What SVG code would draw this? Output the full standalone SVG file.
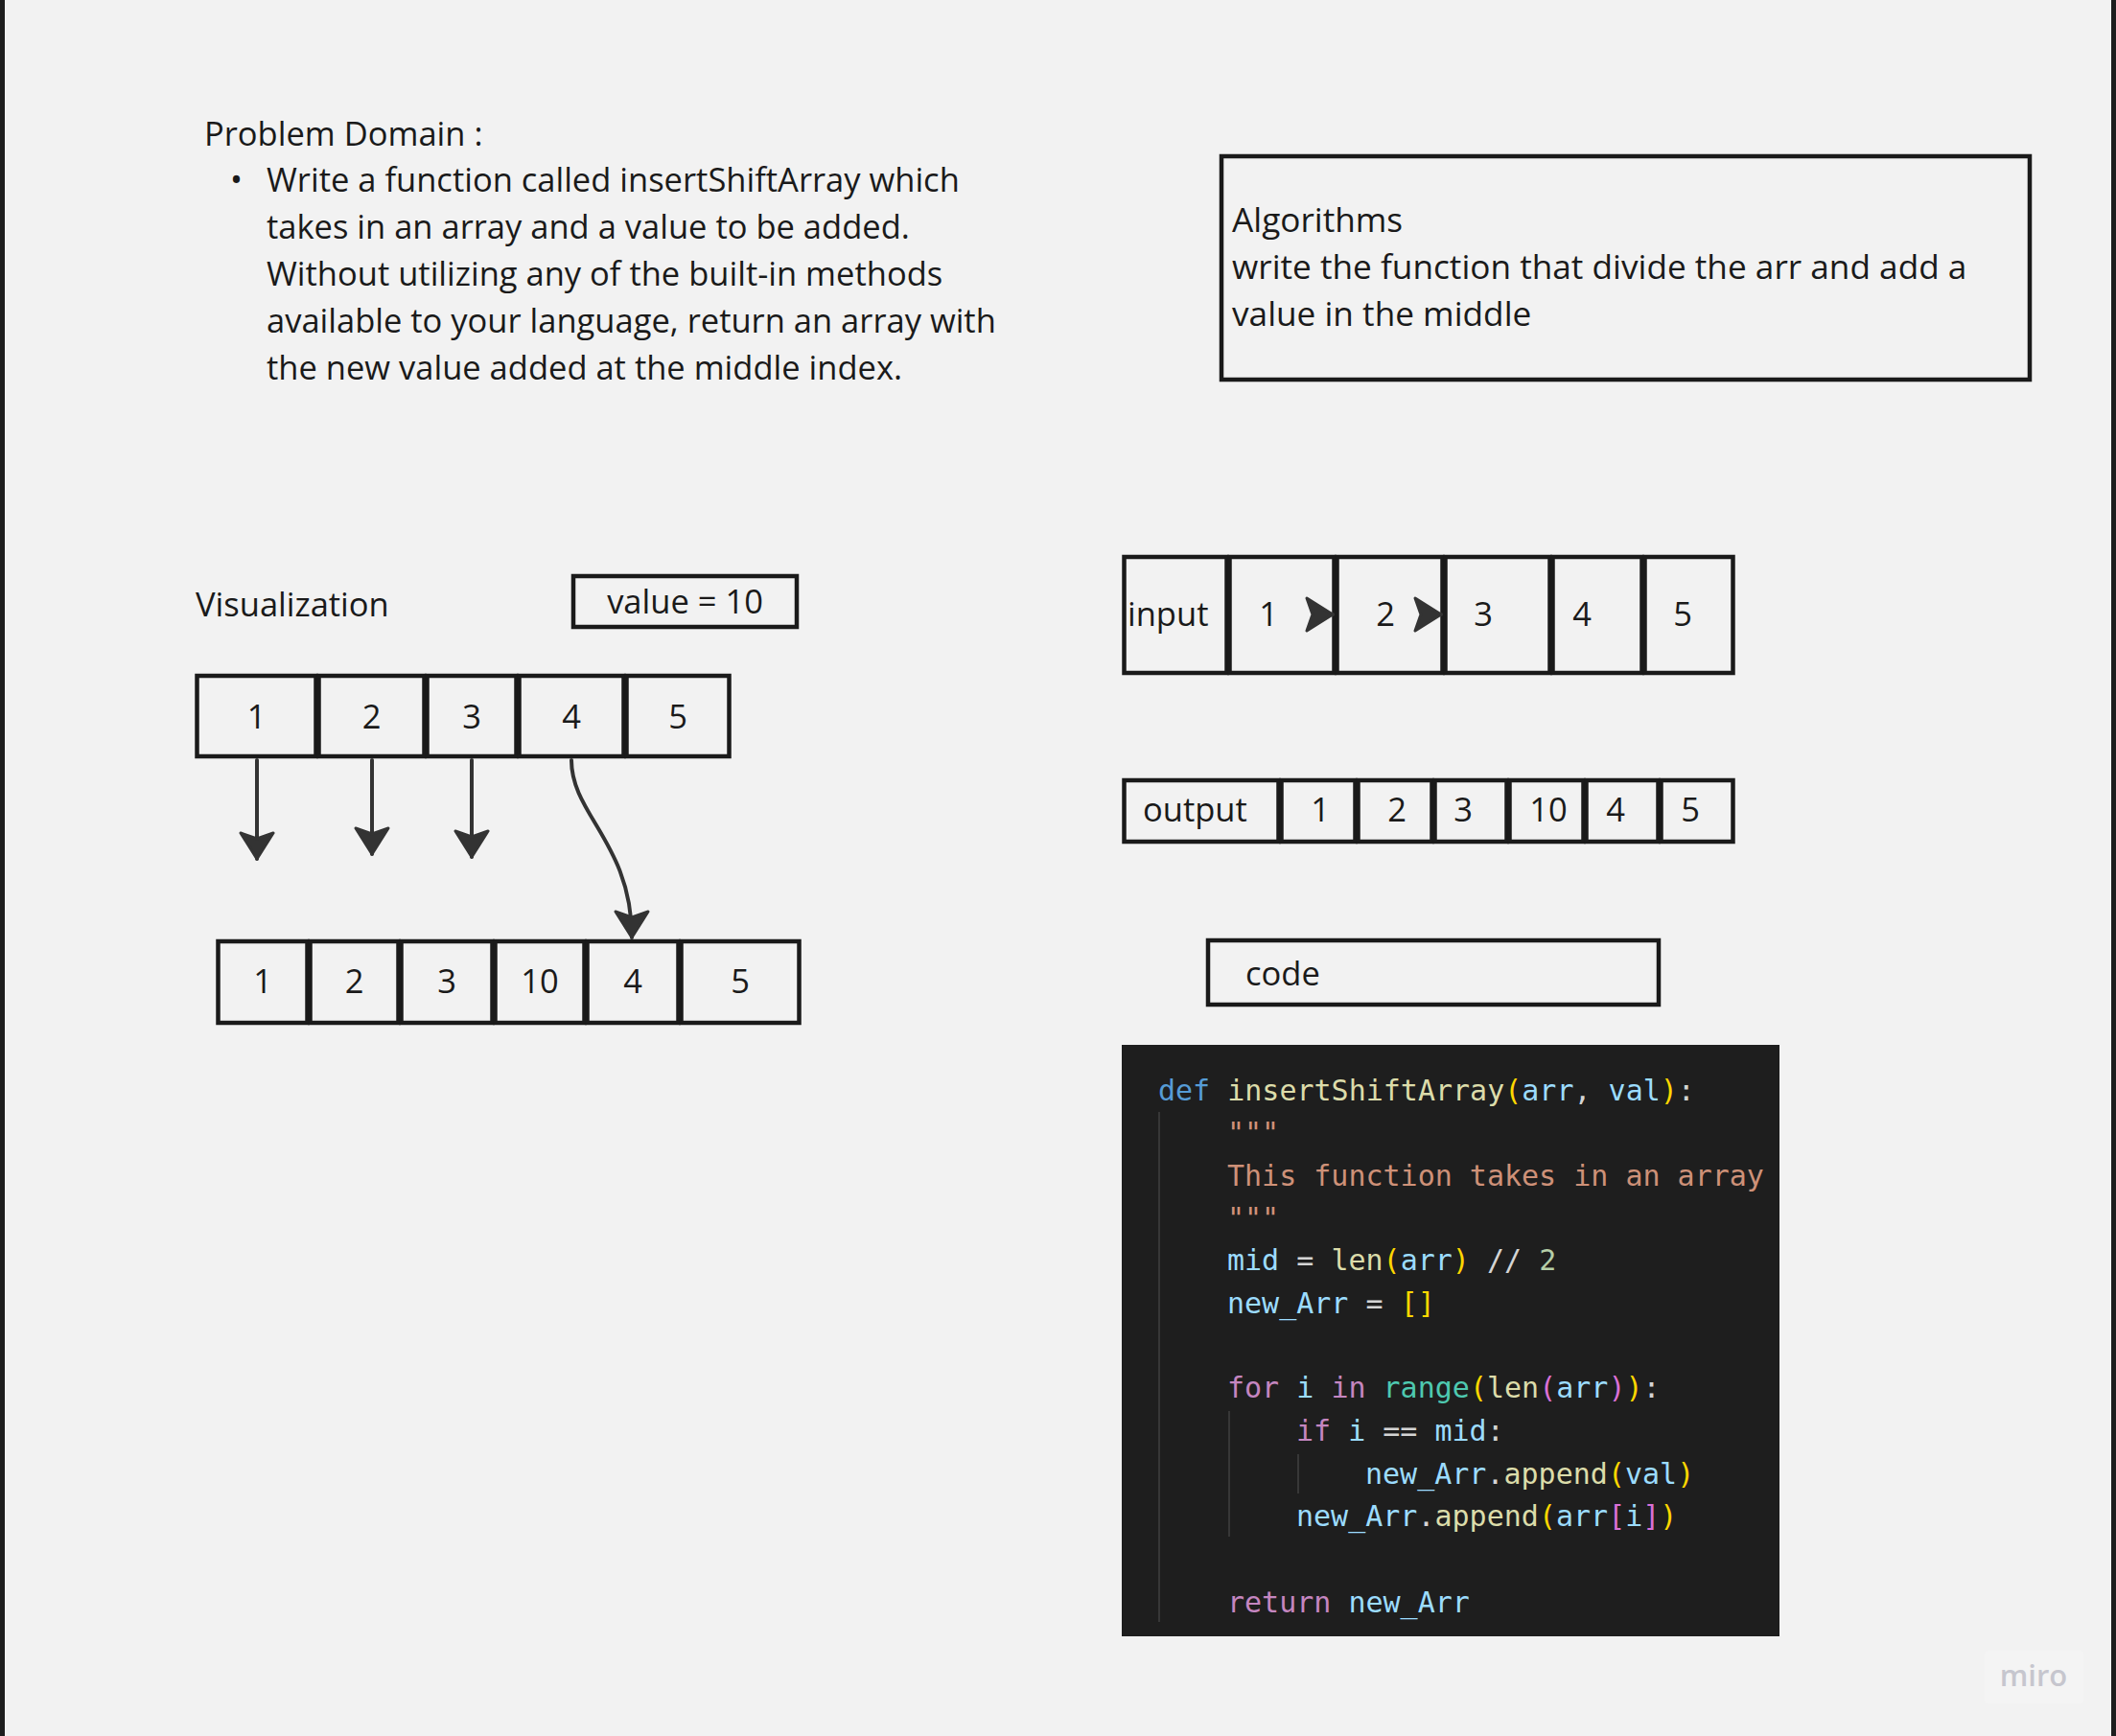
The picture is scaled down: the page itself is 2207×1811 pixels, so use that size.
<svg xmlns="http://www.w3.org/2000/svg" width="2207" height="1811" viewBox="0 0 2207 1811">
<style>
.t{font-family:"Open Sans","Noto Sans","Liberation Sans",sans-serif;font-size:34.5px;fill:#1a1a1a;}
.a{font-size:35.2px;}
.c{text-anchor:middle;}
.cell{fill:none;stroke:#1a1a1a;stroke-width:4.5;}
.box{fill:none;stroke:#1a1a1a;stroke-width:4.5;}
.conn{fill:none;stroke:#333333;stroke-width:4;stroke-linecap:round;}
.code{font-family:"DejaVu Sans Mono","Liberation Mono",monospace;font-size:30px;fill:#D4D4D4;}
.guide{stroke:#404040;stroke-width:1.5;}
</style>
<defs>
<marker id="ah" markerUnits="userSpaceOnUse" markerWidth="44" markerHeight="44" viewBox="-34 -22 40 44" refX="0" refY="0" orient="auto" overflow="visible">
<path d="M0,0 L-27,-17 L-21,0 L-27,17 Z" fill="#333333" stroke="#333333" stroke-width="3" stroke-linejoin="round"/>
</marker>
</defs>
<rect x="0" y="0" width="2207" height="1811" fill="#f2f2f2"/>
<rect x="0" y="0" width="5" height="1811" fill="#1e1e1e"/>
<rect x="2202" y="0" width="5" height="1811" fill="#1e1e1e"/>

<g id="problem-domain">
<text class="t" x="213" y="152">Problem Domain :</text>
<text class="t" x="240" y="200">•</text>
<text class="t" x="278" y="200">Write a function called insertShiftArray which</text>
<text class="t" x="278" y="249">takes in an array and a value to be added.</text>
<text class="t" x="278" y="298">Without utilizing any of the built-in methods</text>
<text class="t" x="278" y="347">available to your language, return an array with</text>
<text class="t" x="278" y="396">the new value added at the middle index.</text>
</g>

<g id="algorithms">
<rect class="box" x="1274" y="163" width="843" height="233"/>
<text class="t a" x="1285" y="242">Algorithms</text>
<text class="t a" x="1285" y="291">write the function that divide the arr and add a</text>
<text class="t a" x="1285" y="340">value in the middle</text>
</g>

<g id="visualization-label">
<text class="t" x="204" y="643">Visualization</text>
</g>

<g id="value-box">
<rect class="box" x="598" y="601" width="233" height="53"/>
<text class="t c" x="714.5" y="640">value = 10</text>
</g>

<g id="array-top">
<rect class="cell" x="205.5" y="705" width="124" height="84"/>
<rect class="cell" x="332.5" y="705" width="110" height="84"/>
<rect class="cell" x="445.5" y="705" width="93" height="84"/>
<rect class="cell" x="541.5" y="705" width="109" height="84"/>
<rect class="cell" x="653.5" y="705" width="107" height="84"/>
<text class="t c" x="267.5" y="760">1</text>
<text class="t c" x="387.5" y="760">2</text>
<text class="t c" x="492" y="760">3</text>
<text class="t c" x="596" y="760">4</text>
<text class="t c" x="707" y="760">5</text>
</g>

<g id="array-bottom">
<rect class="cell" x="227.5" y="982" width="93" height="85"/>
<rect class="cell" x="323.5" y="982" width="92" height="85"/>
<rect class="cell" x="418.5" y="982" width="95" height="85"/>
<rect class="cell" x="516.5" y="982" width="93" height="85"/>
<rect class="cell" x="612.5" y="982" width="95" height="85"/>
<rect class="cell" x="710.5" y="982" width="123" height="85"/>
<text class="t c" x="274" y="1036">1</text>
<text class="t c" x="369.5" y="1036">2</text>
<text class="t c" x="466" y="1036">3</text>
<text class="t c" x="563" y="1036">10</text>
<text class="t c" x="660" y="1036">4</text>
<text class="t c" x="772" y="1036">5</text>
</g>

<g id="array-input">
<rect class="cell" x="1172.5" y="581" width="107" height="121"/>
<rect class="cell" x="1282.5" y="581" width="109" height="121"/>
<rect class="cell" x="1394.5" y="581" width="110" height="121"/>
<rect class="cell" x="1507.5" y="581" width="109" height="121"/>
<rect class="cell" x="1619.5" y="581" width="93" height="121"/>
<rect class="cell" x="1715.5" y="581" width="92" height="121"/>
<text class="t" x="1176" y="653">input</text>
<text class="t c" x="1323" y="653">1</text>
<text class="t c" x="1445" y="653">2</text>
<text class="t c" x="1547" y="653">3</text>
<text class="t c" x="1650" y="653">4</text>
<text class="t c" x="1755" y="653">5</text>
</g>

<g id="array-output">
<rect class="cell" x="1172.5" y="814" width="161" height="64"/>
<rect class="cell" x="1336.5" y="814" width="77" height="64"/>
<rect class="cell" x="1416.5" y="814" width="77" height="64"/>
<rect class="cell" x="1496.5" y="814" width="75" height="64"/>
<rect class="cell" x="1574.5" y="814" width="77" height="64"/>
<rect class="cell" x="1654.5" y="814" width="75" height="64"/>
<rect class="cell" x="1732.5" y="814" width="75" height="64"/>
<text class="t" x="1192" y="857">output</text>
<text class="t c" x="1377" y="857">1</text>
<text class="t c" x="1457" y="857">2</text>
<text class="t c" x="1526" y="857">3</text>
<text class="t c" x="1615" y="857">10</text>
<text class="t c" x="1685" y="857">4</text>
<text class="t c" x="1763" y="857">5</text>
</g>

<g id="code-label">
<rect class="box" x="1260" y="981" width="470" height="67"/>
<text class="t" x="1299" y="1028">code</text>
</g>

<g id="code-block">
<rect x="1170" y="1090" width="686" height="617" fill="#1e1e1e"/>
<line class="guide" x1="1209" y1="1160" x2="1209" y2="1692"/>
<line class="guide" x1="1282" y1="1472" x2="1282" y2="1603"/>
<line class="guide" x1="1354" y1="1517" x2="1354" y2="1558"/>
<text class="code" x="1208" y="1148" xml:space="preserve"><tspan fill="#569CD6">def</tspan> <tspan fill="#DCDCAA">insertShiftArray</tspan><tspan fill="#FFD700">(</tspan><tspan fill="#9CDCFE">arr</tspan>, <tspan fill="#9CDCFE">val</tspan><tspan fill="#FFD700">)</tspan>:</text>
<text class="code" x="1280" y="1192" style="fill:#CE9178">"""</text>
<text class="code" x="1280" y="1237" style="fill:#CE9178" xml:space="preserve">This function takes in an array</text>
<text class="code" x="1280" y="1281" style="fill:#CE9178">"""</text>
<text class="code" x="1280" y="1325" xml:space="preserve"><tspan fill="#9CDCFE">mid</tspan> = <tspan fill="#DCDCAA">len</tspan><tspan fill="#FFD700">(</tspan><tspan fill="#9CDCFE">arr</tspan><tspan fill="#FFD700">)</tspan> // <tspan fill="#B5CEA8">2</tspan></text>
<text class="code" x="1280" y="1370" xml:space="preserve"><tspan fill="#9CDCFE">new_Arr</tspan> = <tspan fill="#FFD700">[]</tspan></text>
<text class="code" x="1280" y="1458" xml:space="preserve"><tspan fill="#C586C0">for</tspan> <tspan fill="#9CDCFE">i</tspan> <tspan fill="#C586C0">in</tspan> <tspan fill="#4EC9B0">range</tspan><tspan fill="#FFD700">(</tspan><tspan fill="#DCDCAA">len</tspan><tspan fill="#DA70D6">(</tspan><tspan fill="#9CDCFE">arr</tspan><tspan fill="#DA70D6">)</tspan><tspan fill="#FFD700">)</tspan>:</text>
<text class="code" x="1352" y="1503" xml:space="preserve"><tspan fill="#C586C0">if</tspan> <tspan fill="#9CDCFE">i</tspan> == <tspan fill="#9CDCFE">mid</tspan>:</text>
<text class="code" x="1424" y="1548" xml:space="preserve"><tspan fill="#9CDCFE">new_Arr</tspan>.<tspan fill="#DCDCAA">append</tspan><tspan fill="#FFD700">(</tspan><tspan fill="#9CDCFE">val</tspan><tspan fill="#FFD700">)</tspan></text>
<text class="code" x="1352" y="1592" xml:space="preserve"><tspan fill="#9CDCFE">new_Arr</tspan>.<tspan fill="#DCDCAA">append</tspan><tspan fill="#FFD700">(</tspan><tspan fill="#9CDCFE">arr</tspan><tspan fill="#DA70D6">[</tspan><tspan fill="#9CDCFE">i</tspan><tspan fill="#DA70D6">]</tspan><tspan fill="#FFD700">)</tspan></text>
<text class="code" x="1280" y="1682" xml:space="preserve"><tspan fill="#C586C0">return</tspan> <tspan fill="#9CDCFE">new_Arr</tspan></text>
</g>

<g id="connectors">
<path class="conn" d="M268,793 L268,896" marker-end="url(#ah)"/>
<path class="conn" d="M388,793 L388,891" marker-end="url(#ah)"/>
<path class="conn" d="M492,793 L492,894" marker-end="url(#ah)"/>
<path class="conn" d="M596,793 C596,850 659,880 659,978" marker-end="url(#ah)"/>
<path class="conn" d="M1372,641 L1390,641" marker-end="url(#ah)"/>
<path class="conn" d="M1484,641 L1503,641" marker-end="url(#ah)"/>
</g>

<g id="watermark">
<rect x="2070" y="1722" width="103" height="55" rx="4" fill="#f4f4f4"/>
<text x="2121" y="1759" text-anchor="middle" style="font-family:'Open Sans','Noto Sans',sans-serif;font-size:31px;font-weight:600;fill:#c6c6ce">miro</text>
</g>
</svg>
